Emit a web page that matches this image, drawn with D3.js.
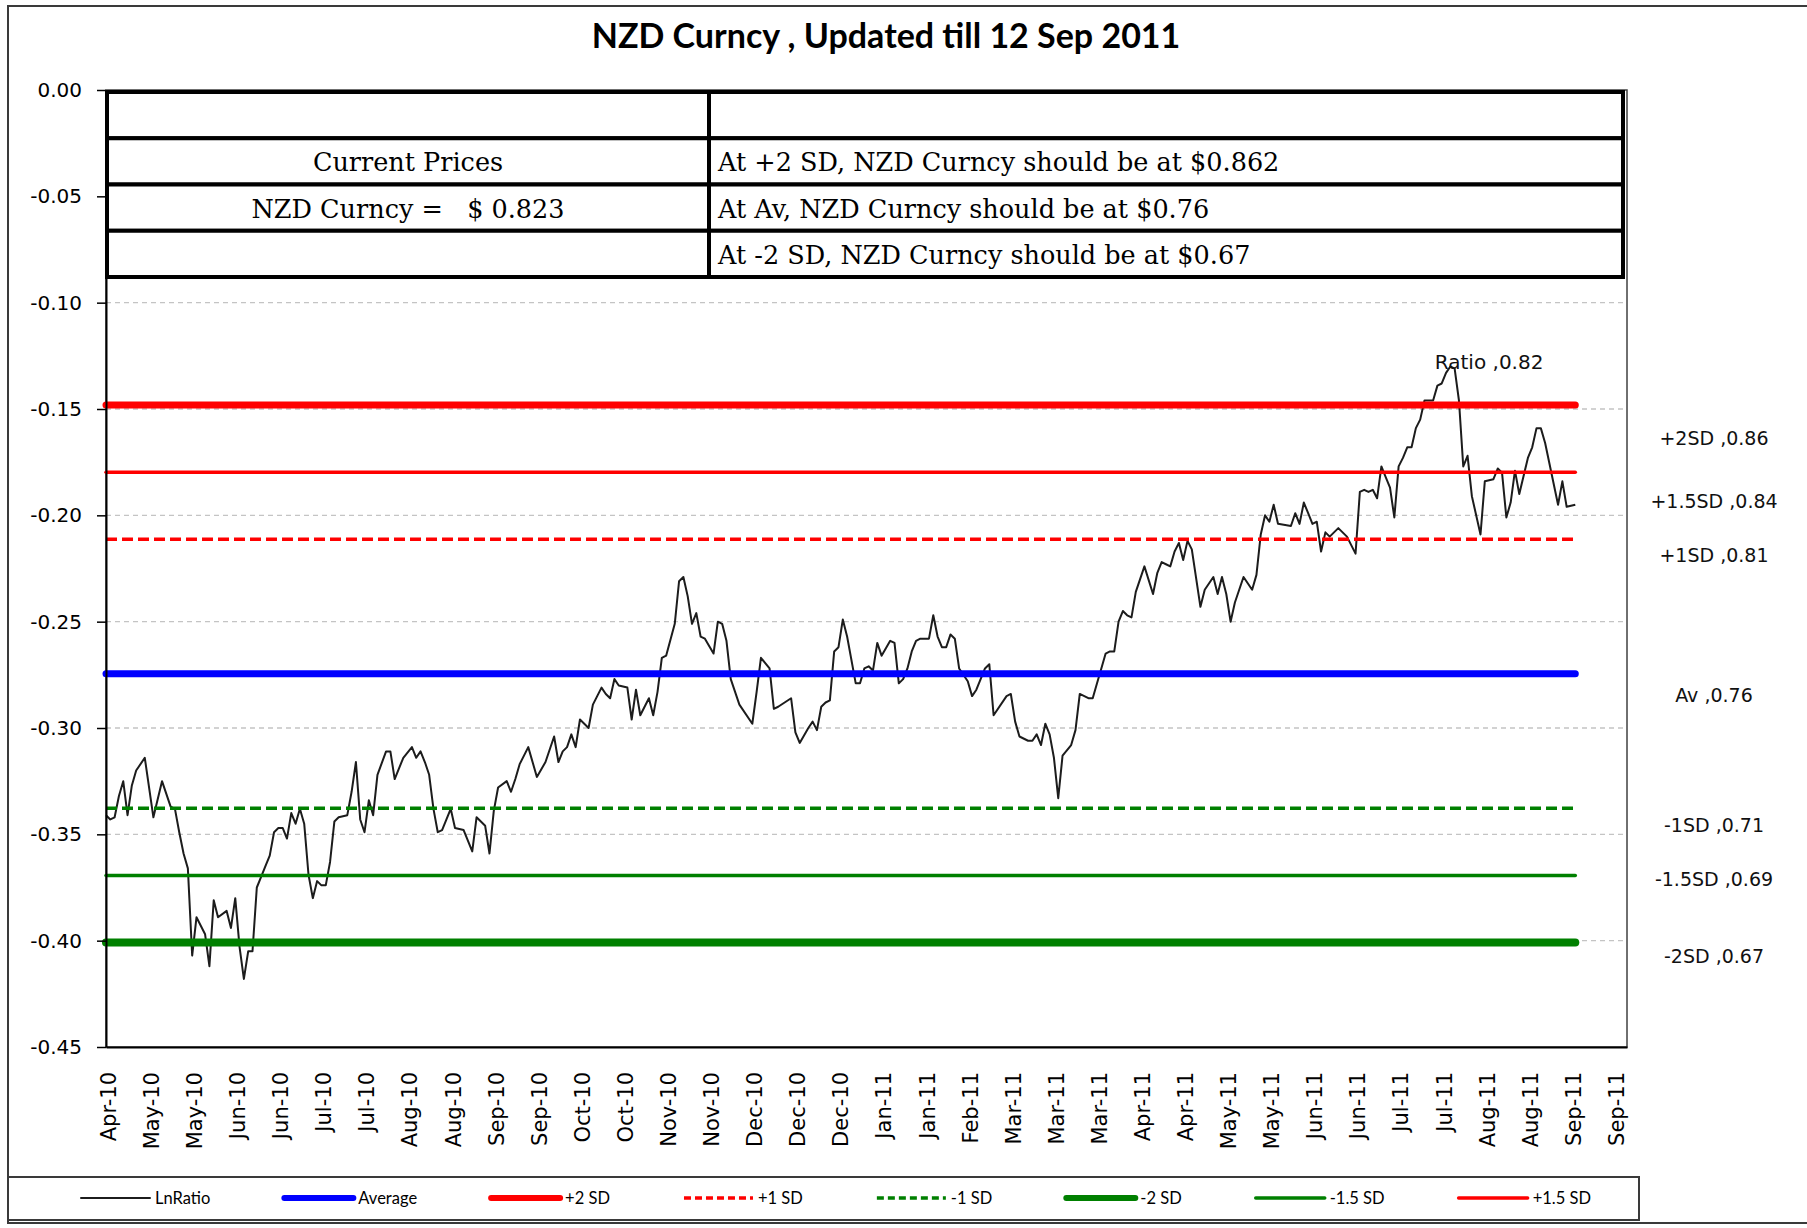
<!DOCTYPE html>
<html>
<head>
<meta charset="utf-8">
<script src="https://cdn.jsdelivr.net/npm/d3@7"></script>
<style>
  body { margin: 0; background: #fff; }
  svg { display: block; }
</style>
</head>
<body>
<svg id="chart"></svg>
<script>
// ---- data ----
const titleText = 'NZD Curncy , Updated till 12 Sep 2011';

const tickLabels = ['Apr-10','May-10','May-10','Jun-10','Jun-10','Jul-10','Jul-10','Aug-10','Aug-10',
  'Sep-10','Sep-10','Oct-10','Oct-10','Nov-10','Nov-10','Dec-10','Dec-10','Dec-10','Jan-11','Jan-11',
  'Feb-11','Mar-11','Mar-11','Mar-11','Apr-11','Apr-11','May-11','May-11','Jun-11','Jun-11','Jul-11',
  'Jul-11','Aug-11','Aug-11','Sep-11','Sep-11'];
const labelEvery = 10;      // one axis label every 10 trading days
const axisDays = 353;       // last category on the axis

const yTicks = [0, -0.05, -0.10, -0.15, -0.20, -0.25, -0.30, -0.35, -0.40, -0.45];

// LnRatio, [trading day, value]
const lnRatio = [
  [0,-0.341],[1,-0.343],[2,-0.342],[3,-0.332],[4,-0.325],[5,-0.341],[6,-0.327],[7,-0.320],[9,-0.314],
  [11,-0.342],[13,-0.325],[15,-0.337],[16,-0.338],[17,-0.349],[18,-0.359],[19,-0.366],[20,-0.407],
  [21,-0.389],[23,-0.397],[24,-0.412],[25,-0.381],[26,-0.389],[28,-0.386],[29,-0.394],[30,-0.380],
  [31,-0.403],[32,-0.418],[33,-0.405],[34,-0.405],[35,-0.375],[36,-0.370],[37,-0.365],[38,-0.360],
  [39,-0.349],[40,-0.347],[41,-0.347],[42,-0.352],[43,-0.340],[44,-0.345],[45,-0.338],[46,-0.345],
  [47,-0.369],[48,-0.380],[49,-0.372],[50,-0.374],[51,-0.374],[52,-0.363],[53,-0.344],[54,-0.342],
  [56,-0.341],[57,-0.330],[58,-0.316],[59,-0.343],[60,-0.349],[61,-0.334],[62,-0.341],[63,-0.322],
  [65,-0.311],[66,-0.311],[67,-0.324],
  [69,-0.314],[71,-0.309],[72,-0.314],[73,-0.311],[74,-0.316],[75,-0.322],[76,-0.338],[77,-0.349],
  [78,-0.348],[80,-0.338],[81,-0.347],[83,-0.348],[85,-0.358],[86,-0.342],[88,-0.346],[89,-0.359],
  [90,-0.339],[91,-0.328],[93,-0.325],[94,-0.330],[95,-0.324],[96,-0.317],[98,-0.309],[100,-0.323],
  [102,-0.316],[104,-0.304],[105,-0.316],[106,-0.311],[107,-0.309],[108,-0.303],[109,-0.309],
  [110,-0.296],[112,-0.300],[113,-0.289],[114,-0.285],[115,-0.281],[116,-0.284],[117,-0.286],
  [118,-0.277],[119,-0.280],[121,-0.281],[122,-0.296],[123,-0.282],[124,-0.294],[126,-0.286],
  [127,-0.294],[128,-0.283],[129,-0.267],[130,-0.266],[132,-0.251],[133,-0.231],[134,-0.229],
  [135,-0.238],[136,-0.251],[137,-0.246],[138,-0.257],
  [139,-0.258],[141,-0.265],[142,-0.250],[143,-0.251],[144,-0.259],[145,-0.277],[147,-0.289],
  [150,-0.298],[151,-0.283],[152,-0.267],[154,-0.272],[155,-0.291],[156,-0.290],[159,-0.286],
  [160,-0.302],[161,-0.307],[163,-0.300],[164,-0.297],[165,-0.301],[166,-0.290],[167,-0.288],
  [168,-0.287],[169,-0.264],[170,-0.262],[171,-0.249],[172,-0.257],[174,-0.279],[175,-0.279],
  [176,-0.272],[177,-0.271],[178,-0.273],[179,-0.260],[180,-0.266],[182,-0.259],[183,-0.260],
  [184,-0.279],[185,-0.277],[186,-0.272],[187,-0.264],[188,-0.259],[189,-0.258],[191,-0.258],
  [192,-0.247],[193,-0.257],[194,-0.262],[195,-0.262],[196,-0.256],[197,-0.258],[198,-0.272],
  [200,-0.278],[201,-0.285],[202,-0.282],[204,-0.272],[205,-0.270],[206,-0.294],
  [209,-0.285],[210,-0.284],[211,-0.297],[212,-0.304],[214,-0.306],[215,-0.306],[216,-0.303],
  [217,-0.308],[218,-0.298],[219,-0.303],[220,-0.314],[221,-0.333],[222,-0.313],[224,-0.308],
  [225,-0.301],[226,-0.284],[228,-0.286],[229,-0.286],[230,-0.279],[231,-0.272],[232,-0.265],
  [233,-0.264],[234,-0.264],[235,-0.250],[236,-0.245],[237,-0.247],[238,-0.248],[239,-0.236],
  [241,-0.224],[243,-0.237],[244,-0.227],[245,-0.222],[246,-0.223],[247,-0.224],[248,-0.217],
  [249,-0.213],[250,-0.221],[251,-0.212],[252,-0.216],[254,-0.243],[255,-0.235],[257,-0.229],
  [258,-0.237],[259,-0.229],[260,-0.237],[261,-0.250],[262,-0.241],[264,-0.229],[266,-0.235],
  [267,-0.228],[268,-0.209],[269,-0.200],[270,-0.203],[271,-0.195],[272,-0.204],
  [275,-0.205],[276,-0.199],[277,-0.204],[278,-0.194],[279,-0.199],[280,-0.204],[281,-0.203],
  [282,-0.217],[283,-0.208],[284,-0.210],[286,-0.206],[288,-0.210],[290,-0.218],[291,-0.189],
  [292,-0.188],[293,-0.189],[294,-0.188],[295,-0.192],[296,-0.177],[297,-0.182],[298,-0.187],
  [299,-0.201],[300,-0.177],[301,-0.173],[302,-0.168],[303,-0.168],[304,-0.159],[305,-0.155],
  [306,-0.146],[308,-0.146],[309,-0.139],[310,-0.138],[311,-0.133],[312,-0.130],[313,-0.131],
  [314,-0.146],[315,-0.177],[316,-0.172],[317,-0.191],[319,-0.209],[320,-0.184],[322,-0.183],
  [323,-0.178],[324,-0.180],[325,-0.201],[326,-0.194],[327,-0.179],[328,-0.190],[330,-0.173],
  [331,-0.168],[332,-0.159],[333,-0.159],[334,-0.166],[337,-0.195],[338,-0.184],[339,-0.196],
  [341,-0.195]
];

// horizontal levels, in legend order after LnRatio
const levelNames  = ['Average', '+2 SD', '+1 SD', '-1 SD', '-2 SD', '-1.5 SD', '+1.5 SD'];
const levelValues = [-0.2745, -0.1481, -0.2113, -0.3377, -0.4009, -0.3693, -0.1797];

// labels on the right of the plot
const sideLabelFor = ['+2 SD', '+1.5 SD', '+1 SD', 'Average', '-1 SD', '-1.5 SD', '-2 SD'];
const sideLabels   = ['+2SD ,0.86', '+1.5SD ,0.84', '+1SD ,0.81', 'Av ,0.76', '-1SD ,0.71', '-1.5SD ,0.69', '-2SD ,0.67'];

const ratioLabel = 'Ratio ,0.82';

const tableLeft  = ['', 'Current Prices', 'NZD Curncy =   $ 0.823', ''];
const tableRight = ['', 'At +2 SD, NZD Curncy should be at $0.862',
  'At Av, NZD Curncy should be at $0.76', 'At -2 SD, NZD Curncy should be at $0.67'];

const legendNames = ['LnRatio', 'Average', '+2 SD', '+1 SD', '-1 SD', '-2 SD', '-1.5 SD', '+1.5 SD'];

// ---- styles / layout ----
const styles = {
  'LnRatio': { color: '#1c1c1c', width: 2,   dash: null },
  'Average': { color: '#0000ff', width: 7,   dash: null },
  '+2 SD':   { color: '#ff0000', width: 7,   dash: null },
  '+1 SD':   { color: '#ff0000', width: 3.5, dash: '11,5' },
  '-1 SD':   { color: '#008000', width: 3.5, dash: '11,5' },
  '-2 SD':   { color: '#008000', width: 8,   dash: null },
  '-1.5 SD': { color: '#008000', width: 3.5, dash: null },
  '+1.5 SD': { color: '#ff0000', width: 3.5, dash: null }
};
const sideDy = [33, 29, 16, 21, 17, 4, 13];

const width = 1807, height = 1228;
const plot = { left: 106, right: 1627, top: 90, bottom: 1047 };

const svg = d3.select('#chart')
    .attr('width', width)
    .attr('height', height)
    .style('font-family', '"DejaVu Sans", Verdana, sans-serif');

svg.append('rect').attr('width', width).attr('height', height).attr('fill', '#fff');

// outer chart frame
svg.append('rect')
    .attr('x', 8).attr('y', 6)
    .attr('width', width + 10).attr('height', 1217)
    .attr('fill', 'none')
    .attr('stroke', '#3a3a3a')
    .attr('stroke-width', 2);

const x = d3.scaleLinear().domain([0, axisDays]).range([plot.left, plot.right]);
const y = d3.scaleLinear().domain([-0.45, 0]).range([plot.bottom, plot.top]);

// title
svg.append('text')
    .attr('x', 886).attr('y', 34)
    .attr('text-anchor', 'middle')
    .attr('dominant-baseline', 'central')
    .style('font-family', 'Lato, "Open Sans", sans-serif')
    .style('font-weight', 700)
    .style('font-size', '34px')
    .text(titleText);

// plot frame
svg.append('rect')
    .attr('x', plot.left).attr('y', plot.top)
    .attr('width', plot.right - plot.left).attr('height', plot.bottom - plot.top)
    .attr('fill', 'none')
    .attr('stroke', '#404040')
    .attr('stroke-width', 1.5);

// grid
svg.append('g')
    .attr('class', 'grid')
    .selectAll('line')
    .data(yTicks.filter(d => d < 0 && d > -0.45))
    .enter().append('line')
    .attr('x1', plot.left).attr('x2', plot.right)
    .attr('y1', d => y(d)).attr('y2', d => y(d))
    .attr('stroke', '#c4c4c4')
    .attr('stroke-width', 1.3)
    .attr('stroke-dasharray', '5,4');

const line = d3.line()
    .x(d => x(d[0]))
    .y(d => y(d[1]));

const lastDay = lnRatio[lnRatio.length - 1][0];

// LnRatio
svg.append('path')
    .datum(lnRatio)
    .attr('d', line)
    .attr('fill', 'none')
    .attr('stroke', styles['LnRatio'].color)
    .attr('stroke-width', styles['LnRatio'].width)
    .attr('stroke-linejoin', 'round');

// level lines
levelNames.forEach((name, k) => {
    const st = styles[name];
    svg.append('path')
        .datum([[0, levelValues[k]], [lastDay, levelValues[k]]])
        .attr('d', line)
        .attr('fill', 'none')
        .attr('stroke', st.color)
        .attr('stroke-width', st.width)
        .attr('stroke-linecap', st.dash ? 'butt' : 'round')
        .attr('stroke-dasharray', st.dash);
});

// y axis
const yAxis = d3.axisLeft(y)
    .tickValues(yTicks)
    .tickFormat(d => d.toFixed(2))
    .tickSize(9)
    .tickSizeOuter(0)
    .tickPadding(15);
const gy = svg.append('g')
    .attr('transform', `translate(${plot.left},0)`)
    .call(yAxis);
gy.select('.domain').attr('stroke', '#000').attr('stroke-width', 2);
gy.selectAll('.tick line').attr('stroke', '#000').attr('stroke-width', 1.5);
gy.selectAll('.tick text')
    .style('font-family', '"DejaVu Sans", Verdana, sans-serif')
    .style('font-size', '20px')
    .attr('fill', '#000');

// x axis
const xAxis = d3.axisBottom(x)
    .tickValues(tickLabels.map((d, i) => i * labelEvery))
    .tickFormat((d, i) => tickLabels[i])
    .tickSize(0)
    .tickSizeOuter(0);
const gx = svg.append('g')
    .attr('transform', `translate(0,${plot.bottom})`)
    .call(xAxis);
gx.select('.domain').attr('stroke', '#000').attr('stroke-width', 2);
gx.selectAll('.tick text')
    .attr('transform', 'rotate(-90)')
    .attr('text-anchor', 'end')
    .attr('x', -25)
    .attr('y', 2)
    .attr('dy', '0.35em')
    .style('font-family', '"DejaVu Sans", Verdana, sans-serif')
    .style('font-size', '21px')
    .attr('fill', '#000');

// right-hand labels
svg.append('g')
    .selectAll('text')
    .data(sideLabels)
    .enter().append('text')
    .attr('x', plot.right + 87)
    .attr('y', (d, i) => y(levelValues[levelNames.indexOf(sideLabelFor[i])]) + sideDy[i])
    .attr('text-anchor', 'middle')
    .attr('dominant-baseline', 'central')
    .style('font-size', '19px')
    .attr('fill', '#111')
    .text(d => d);

// label for the ratio series
svg.append('text')
    .attr('x', x(321)).attr('y', y(-0.128))
    .attr('text-anchor', 'middle')
    .attr('dominant-baseline', 'central')
    .style('font-size', '20px')
    .attr('fill', '#111')
    .text(ratioLabel);

// price table
const tbl = { x0: 107, x1: 709, x2: 1623, y0: 92, rowH: 46.25 };
const tg = svg.append('g').attr('class', 'table');
tableLeft.forEach((txt, r) => {
    const ry = tbl.y0 + r * tbl.rowH;
    tg.append('rect')
        .attr('x', tbl.x0).attr('y', ry)
        .attr('width', tbl.x1 - tbl.x0).attr('height', tbl.rowH)
        .attr('fill', '#fff').attr('stroke', '#000').attr('stroke-width', 4);
    tg.append('rect')
        .attr('x', tbl.x1).attr('y', ry)
        .attr('width', tbl.x2 - tbl.x1).attr('height', tbl.rowH)
        .attr('fill', '#fff').attr('stroke', '#000').attr('stroke-width', 4);
    tg.append('text')
        .attr('x', (tbl.x0 + tbl.x1) / 2).attr('y', ry + tbl.rowH / 2 + 1)
        .attr('text-anchor', 'middle')
        .attr('dominant-baseline', 'central')
        .style('white-space', 'pre')
        .style('font-family', '"DejaVu Serif", serif')
        .style('font-size', '25.5px')
        .text(txt);
    tg.append('text')
        .attr('x', tbl.x1 + 9).attr('y', ry + tbl.rowH / 2 + 1)
        .attr('dominant-baseline', 'central')
        .style('font-family', '"DejaVu Serif", serif')
        .style('font-size', '25.5px')
        .text(tableRight[r]);
});

// legend
const lg = svg.append('g').attr('class', 'legend');
lg.append('rect')
    .attr('x', 8).attr('y', 1177)
    .attr('width', 1631).attr('height', 43)
    .attr('fill', '#fff')
    .attr('stroke', '#3a3a3a')
    .attr('stroke-width', 2);
let lx = 81;
const ly = 1198;
legendNames.forEach(name => {
    const st = styles[name];
    lg.append('line')
        .attr('x1', lx).attr('x2', lx + 69)
        .attr('y1', ly).attr('y2', ly)
        .attr('stroke', st.color)
        .attr('stroke-width', Math.min(st.width, 6))
        .attr('stroke-linecap', st.dash ? 'butt' : 'round')
        .attr('stroke-dasharray', st.dash ? '7,4' : null);
    const t = lg.append('text')
        .attr('x', lx + 74).attr('y', ly)
        .attr('dominant-baseline', 'central')
        .style('font-family', 'Lato, sans-serif')
        .style('font-size', '16.5px')
        .text(name);
    lx += 74 + t.node().getComputedTextLength() + 74;
});
</script>
</body>
</html>
